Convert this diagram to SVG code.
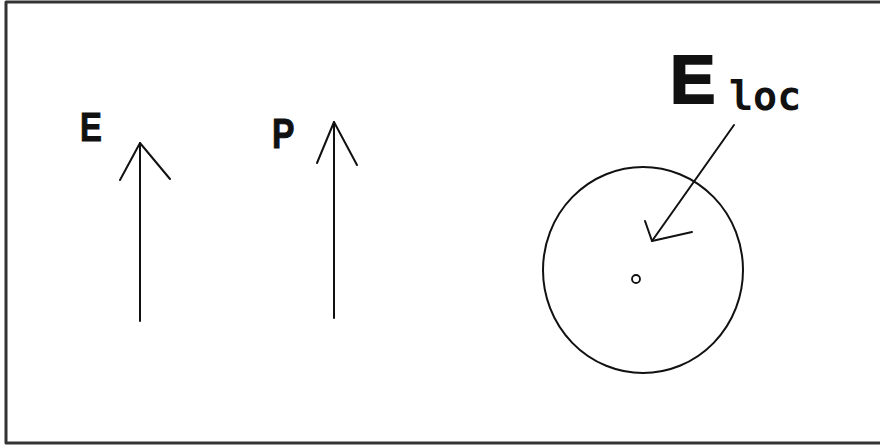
<svg xmlns="http://www.w3.org/2000/svg" width="880" height="448" viewBox="0 0 880 448">
<style>
.ln{stroke:#111;stroke-width:2;fill:none;stroke-linecap:round;stroke-linejoin:round}
.lbl{font-family:"Liberation Sans",Arial,sans-serif;font-weight:bold;fill:#111;stroke:#111}
.mono{font-family:"DejaVu Sans Mono","Liberation Mono",monospace;font-weight:bold;fill:#111}
</style>
<rect width="880" height="448" fill="#fff"/>
<polyline class="ln" points="880,2 6,2 6,443 880,443" style="stroke-width:3;stroke:#333;stroke-linecap:butt"/>
<g id="E-vector">
<text class="lbl" x="0" y="0" font-size="41" stroke-width="1" transform="translate(80,141) scale(0.8,1)">E</text>
</g>
<g id="P-vector">
<text class="lbl" x="0" y="0" font-size="42" stroke-width="1" transform="translate(272,148) scale(0.8,1)">P</text>
</g>
<g id="sphere">
<ellipse class="ln" cx="643" cy="270" rx="100" ry="103"/>
<circle class="ln" cx="636" cy="279" r="4" style="stroke-width:1.8"/>
</g>
<g id="Eloc-label">
<text class="lbl" x="670" y="103" font-size="68" stroke-width="2">E</text>
<text class="mono" x="729" y="110" font-size="40">loc</text>
</g>
<g id="connectors">
<line class="ln" x1="140" y1="321" x2="140" y2="143"/>
<polyline class="ln" points="120,180 140,143 170,179"/>
<line class="ln" x1="334" y1="318" x2="334" y2="122"/>
<polyline class="ln" points="317,163 334,122 357,165"/>
<line class="ln" x1="734" y1="125" x2="652" y2="241"/>
<polyline class="ln" points="645,221 652,241 692,232"/>
</g>
</svg>
